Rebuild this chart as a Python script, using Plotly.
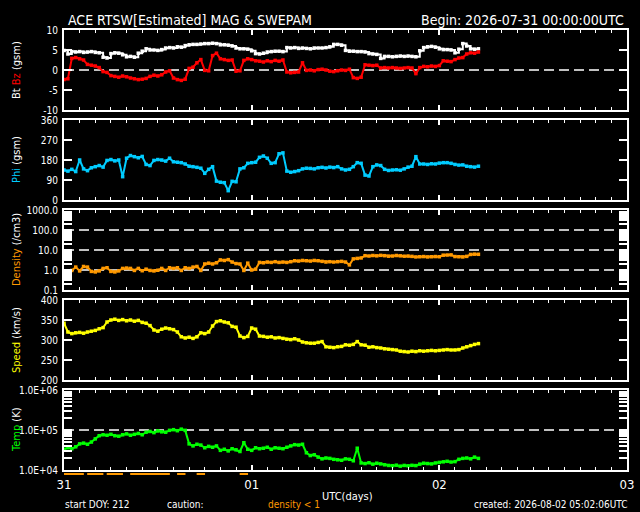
import plotly.graph_objects as go

# sample times, hours after 2026-07-31 00:00 UTC (30 min cadence)
hours = [i * 0.5 for i in range(107)]

bt = [4.9, 4.0, 4.6, 4.5, 4.6, 4.4, 4.5, 4.6, 4.4, 4.3,
      3.2, 3.0, 4.1, 4.3, 4.2, 3.8, 3.3, 3.4, 3.2, 4.2,
      4.7, 5.3, 5.0, 5.0, 4.9, 5.1, 5.5, 5.6, 5.5, 5.8,
      5.7, 6.1, 6.3, 6.4, 6.4, 6.5, 6.6, 6.6, 6.7, 6.6,
      6.3, 6.3, 6.2, 6.0, 5.5, 5.3, 5.3, 5.2, 4.8, 4.1,
      4.0, 4.2, 4.5, 4.6, 4.7, 4.7, 4.6, 5.6, 5.5, 5.6,
      5.4, 5.5, 5.4, 5.3, 5.5, 5.5, 5.5, 5.6, 5.8, 6.4,
      6.4, 6.2, 4.9, 4.7, 4.7, 4.6, 4.6, 4.5, 4.1, 4.0,
      3.9, 2.9, 3.4, 3.4, 3.3, 3.4, 3.5, 3.4, 3.5, 3.4,
      3.3, 4.8, 5.6, 5.8, 5.9, 5.7, 5.3, 5.1, 5.1, 5.0,
      4.3, 5.2, 6.6, 6.0, 5.3, 5.2, 5.3]

bz = [-2.4, -2.2, 2.9, 3.1, 2.8, 2.5, 1.4, 1.2, 1.0, 0.6,
      -0.4, -0.6, -1.4, -1.6, -1.8, -1.5, -1.7, -2.0, -2.2, -2.4,
      -2.3, -2.1, -1.6, -1.3, -1.5, -1.2, -0.5, -0.2, -2.0, -2.4,
      -2.6, -2.3, 0.4, 0.7, 1.8, 2.6, -0.1, -0.2, 3.6, 4.2,
      2.8, 2.6, 2.4, 2.5, -0.3, -0.2, 2.4, 2.8, 2.6, 2.3,
      2.2, 2.0, 2.3, 2.1, 2.4, 2.2, 2.5, -0.5, -0.7, -0.6,
      -0.5, 1.8, -0.1, 0.0, -0.2, 0.1, 0.2, 0.0, -0.3, -0.4,
      -0.2, 0.0, -0.1, 0.2, -1.9, -2.1, -1.8, 1.3, 1.2, 1.1,
      1.2, 0.5, 0.6, 0.5, 0.6, 0.5, 0.4, 0.5, 0.6, 0.5,
      -0.9, 0.6, 0.9, 0.8, 1.0, 0.9, 1.1, 2.3, 2.2, 2.1,
      2.6, 3.0, 3.1, 4.0, 4.3, 4.2, 4.5]

phi = [135, 130, 138, 128, 180, 140, 132, 145, 150, 155,
       148, 178, 182, 176, 180, 105, 188, 200, 195, 190,
       196, 160, 155, 178, 182, 180, 175, 188, 172, 170,
       168, 162, 152, 150, 147, 143, 120, 138, 150, 85,
       80, 78, 42, 84, 82, 140, 145, 165, 168, 170,
       192, 198, 188, 165, 168, 208, 212, 130, 125, 128,
       132, 140, 143, 142, 140, 145, 147, 144, 148, 146,
       150, 140, 135, 138, 150, 168, 165, 112, 108, 150,
       158, 155, 138, 133, 135, 136, 134, 140, 148, 152,
       195, 162, 162, 160, 163, 162, 166, 168, 168, 165,
       160, 157, 158, 152, 150, 148, 152]

density = [0.8, 0.9, 0.95, 1.4, 0.9, 1.5, 1.4, 0.85, 0.8, 0.9,
           1.2, 1.3, 0.85, 0.8, 0.9, 1.2, 1.25, 1.2, 0.95, 1.2,
           0.92, 1.1, 0.95, 0.9, 0.97, 1.2, 0.95, 1.3, 1.2, 1.3,
           0.95, 1.3, 1.2, 1.4, 1.5, 0.95, 2.0, 2.2, 2.0, 2.3,
           3.2, 3.0, 3.3, 2.5, 2.1, 2.0, 0.95, 2.2, 1.0, 1.1,
           2.4, 2.3, 2.5, 2.4, 2.6, 2.4, 2.5, 2.4, 2.6, 2.9,
           2.8, 3.0, 2.9, 2.8, 3.0, 2.9, 2.7, 2.5, 2.6, 2.5,
           2.6, 2.7, 2.5, 1.8, 3.6, 3.8, 4.0, 5.2, 5.0, 5.3,
           5.1, 5.4, 5.2, 4.9, 5.0, 5.3, 5.1, 4.9, 5.0, 4.8,
           4.5, 4.6, 4.7, 4.5, 4.6, 4.7, 4.6, 5.5, 5.6, 5.7,
           4.7, 4.6, 4.5, 4.8, 6.0, 6.2, 6.1]

speed = [342, 320, 316, 318, 319, 317, 320, 322, 324, 328,
         331, 345, 350, 352, 349, 351, 348, 350, 347, 349,
         344, 342, 336, 325, 322, 327, 330, 328, 326, 320,
         308, 305, 307, 304, 308, 318, 316, 320, 335, 346,
         348, 345, 343, 334, 332, 310, 306, 309, 330, 327,
         310, 309, 307, 308, 305, 306, 304, 302, 301, 303,
         300, 295, 293, 292, 292, 294, 296, 283, 282, 281,
         283, 284, 288, 287, 289, 296, 288, 287, 282, 283,
         281, 280, 278, 277, 276, 275, 272, 271, 270, 272,
         271, 273, 272, 273, 274, 273, 274, 275, 276, 275,
         275, 276, 280, 283, 286, 289, 291]

temp = [33000, 36000, 34000, 38000, 45000, 47000, 44000, 50000, 60000, 72000,
        76000, 74000, 78000, 72000, 70000, 76000, 80000, 74000, 78000, 82000,
        76000, 88000, 92000, 86000, 95000, 90000, 88000, 98000, 102000, 96000,
        105000, 98000, 45000, 40000, 44000, 42000, 36000, 39000, 37000, 40000,
        31000, 33000, 30000, 34000, 32000, 29000, 48000, 33000, 31000, 36000,
        34000, 35000, 37000, 33000, 36000, 35000, 34000, 37000, 40000, 43000,
        42000, 44000, 27000, 23000, 24000, 21000, 19000, 20000, 19500, 18500,
        18000, 17500, 19000, 18500, 17000, 35000, 15000, 14500, 15200, 14000,
        14800, 14200, 13500, 13000, 12800, 13200, 12500, 13000, 12700, 13100,
        12900, 14000, 14800, 14500, 14200, 15000, 15500, 16000, 16500, 15800,
        16200, 18500, 19500, 20000, 19000, 21000, 19500]

for s in (bt, bz, phi, density, speed, temp):
    assert len(s) == len(hours)

day_ticks = [0, 24, 48, 72]
day_labels = ['31', '01', '02', '03']

bz_ref = [0]
den_ref = [1, 10, 100]
temp_ref = [1e5]

FONT = 'DejaVu Sans Condensed, DejaVu Sans, sans-serif'
W, H = 640, 512
L, R, T, B = 64, 13, 30, 30
PH = H - T - B
PW = W - L - R


def dom(top, bottom):
    return [(H - B - bottom) / PH, (H - B - top) / PH]


def px_x(x):
    return (x - L) / PW


def px_y(y):
    return (H - B - y) / PH


panels = [(30, 110), (120, 200), (210, 290), (300, 380), (390, 470)]


def log_ticks(lo, hi, fmt):
    vals, text = [], []
    for e in range(lo, hi):
        for m in range(1, 10):
            vals.append(m * 10.0 ** e)
            text.append(fmt(10.0 ** e) if m == 1 else '')
    vals.append(10.0 ** hi)
    text.append(fmt(10.0 ** hi))
    return vals, text


den_vals, den_text = log_ticks(-1, 3, lambda v: f'{v:.1f}')
tmp_vals, tmp_text = log_ticks(4, 6, lambda v: f'{v:.1E}')

fig = go.Figure()


def series(y, color, xa, ya, shape='linear'):
    fig.add_trace(go.Scatter(x=hours, y=y, mode='lines+markers', xaxis=xa, yaxis=ya,
                             line=dict(color=color, width=2, shape=shape),
                             marker=dict(color=color, size=3.5, symbol='square')))


series(bt, 'white', 'x', 'y', shape='hv')
series(bz, '#ff0000', 'x', 'y')
series(phi, '#00ccff', 'x2', 'y2')
series(density, '#ff9900', 'x3', 'y3')
series(speed, '#ffff00', 'x4', 'y4')
series(temp, '#00ff00', 'x5', 'y5')

# caution strip: times where density < 1
low = [t for t, d in zip(hours, density) if d < 1]
fig.add_trace(go.Scatter(x=low, y=[0.5] * len(low), mode='markers', xaxis='x6', yaxis='y6',
                         marker=dict(symbol='line-ew', size=6, color='#ff9900',
                                     line=dict(color='#ff9900', width=2))))

axis_common = dict(showline=True, linecolor='white', linewidth=2, mirror='ticks',
                   ticks='inside', tickcolor='white', tickwidth=1.5,
                   showgrid=False, zeroline=False, automargin=False)

layout = dict(width=W, height=H, margin=dict(l=L, r=R, t=T, b=B),
              paper_bgcolor='black', plot_bgcolor='black', showlegend=False,
              font=dict(family=FONT, color='white', size=11))

for i, (top, bot) in enumerate(panels, start=1):
    sfx = '' if i == 1 else str(i)
    layout['xaxis' + sfx] = dict(axis_common, range=[0, 72], anchor='y' + sfx,
                                 tickvals=day_ticks, ticktext=day_labels, ticklen=5,
                                 showticklabels=(i == 5), ticklabelstandoff=1,
                                 tickfont=dict(size=13, color='white'),
                                 minor=dict(dtick=2, tick0=0, ticks='inside', ticklen=3,
                                            tickcolor='white', tickwidth=1),
                                 **({} if i == 1 else dict(matches='x')))
    layout['yaxis' + sfx] = dict(axis_common, domain=dom(top, bot), anchor='x' + sfx,
                                 ticklen=8, ticklabelstandoff=2,
                                 tickfont=dict(size=10, color='white'))

layout['yaxis'].update(range=[-10, 10], tickvals=[-10, -5, 0, 5, 10],
                       ticktext=['-10', '-5', '0', '5', '10'])
layout['yaxis2'].update(range=[0, 360], tickvals=[0, 90, 180, 270, 360],
                        ticktext=['0', '90', '180', '270', '360'])
layout['yaxis3'].update(type='log', range=[-1, 3], tickvals=den_vals, ticktext=den_text)
layout['yaxis4'].update(range=[200, 400], tickvals=[200, 250, 300, 350, 400],
                        ticktext=['200', '250', '300', '350', '400'])
layout['yaxis5'].update(type='log', range=[4, 6], tickvals=tmp_vals, ticktext=tmp_text)

layout['xaxis6'] = dict(range=[0, 72], anchor='y6', visible=False, matches='x')
layout['yaxis6'] = dict(range=[0, 1], domain=dom(471, 477), anchor='x6', visible=False)

fig.update_layout(layout)

for ax, refs in (('y', bz_ref), ('y3', den_ref), ('y5', temp_ref)):
    for v in refs:
        fig.add_shape(type='line', xref=ax.replace('y', 'x') + ' domain', x0=0, x1=1,
                      yref=ax, y0=v, y1=v, layer='below',
                      line=dict(color='white', width=1.5, dash='10px,5px'))

ytitles = [
    "<span style='color:white'>Bt</span> <span style='color:#ff0000'>Bz</span> (gsm)",
    "<span style='color:#00ccff'>Phi</span> (gsm)",
    "<span style='color:#ff9900'>Density</span> (/cm3)",
    "<span style='color:#ffff00'>Speed</span> (km/s)",
    "<span style='color:#00ff00'>Temp</span> (K)",
]
for txt, (top, bot) in zip(ytitles, panels):
    fig.add_annotation(text=txt, xref='paper', yref='paper', x=px_x(16), y=px_y((top + bot) / 2),
                       xanchor='center', yanchor='middle', textangle=-90, showarrow=False,
                       font=dict(size=11, color='white'))


def note(text, x, y, anchor='left', size=14, color='white'):
    fig.add_annotation(text=text, xref='paper', yref='paper', x=px_x(x), y=px_y(y),
                       xanchor=anchor, yanchor='middle', showarrow=False,
                       font=dict(size=size, color=color))


note('ACE RTSW[Estimated] MAG &amp; SWEPAM', 66, 20)
note('Begin: 2026-07-31 00:00:00UTC', 626, 20, anchor='right')
note('start DOY: 212', 63, 504, size=10)
note('caution:', 165, 504, size=10)
note('density &lt; 1', 266, 504, size=10, color='#ff9900')
note('UTC(days)', 320, 496, size=11)
note('created: 2026-08-02 05:02:06UTC', 629, 504, anchor='right', size=10)

# drop the page's default body margin so the 640x512 figure fills the window
fig.write_html("out.html", config={'displayModeBar': False},
               post_script="document.body.style.margin='0';document.body.style.background='black';")
